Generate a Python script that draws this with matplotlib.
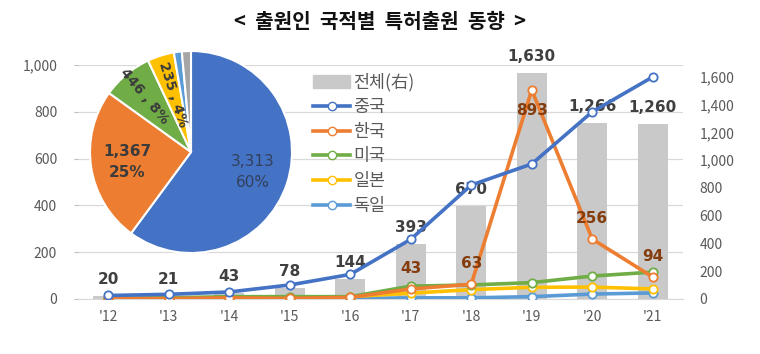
import numpy as np
import matplotlib
matplotlib.use('Agg')
import matplotlib.pyplot as plt
from matplotlib.patches import Patch
from matplotlib.lines import Line2D

plt.rcParams['font.family'] = ['Noto Sans CJK KR', 'DejaVu Sans']

# data
years = ["'12", "'13", "'14", "'15", "'16", "'17", "'18", "'19", "'20", "'21"]
total = [20, 21, 43, 78, 144, 393, 670, 1630, 1266, 1260]
china = [15, 20, 30, 60, 105, 255, 487, 577, 800, 949]
korea = [1, 2, 5, 3, 7, 43, 63, 893, 256, 94]
usa = [3, 5, 10, 10, 10, 55, 60, 70, 98, 115]
japan = [2, 3, 5, 5, 10, 25, 40, 50, 51, 43]
germany = [0, 0, 0, 0, 2, 5, 5, 10, 21, 26]
korea_labelled = ["'17", "'18", "'19", "'20", "'21"]

pie_names = ['중국', '한국', '미국', '일본', '독일', '기타']
pie_values = [3313, 1367, 446, 235, 70, 80]
pie_labels = ['3,313\n60%', '1,367\n25%', '446 , 8%', '235 , 4%', '', '']

c_china = '#4472C4'
c_korea = '#ED7D31'
c_usa = '#70AD47'
c_japan = '#FFC000'
c_germany = '#5B9BD5'
c_bar = '#C9C9C9'
c_text = '#595959'

fig = plt.figure(figsize=(7.6, 3.54), dpi=100)
rect = [78 / 760, 55 / 354, 605 / 760, 234 / 354]

# bottom axis: grid + left ticks
ax = fig.add_axes(rect)
ax.set_xlim(-0.5, len(years) - 0.5)
ax.set_ylim(0, 1000)
ax.set_yticks(range(0, 1001, 200))
ax.set_yticklabels([f'{v:,}' for v in range(0, 1001, 200)])
ax.grid(axis='y', color='#D9D9D9', linewidth=0.9)
ax.set_xticks(range(len(years)))
ax.set_xticklabels(years)
ax.tick_params(axis='both', colors=c_text, labelsize=10, length=0)
ax.tick_params(axis='y', length=3, color='#BFBFBF', pad=12)
ax.tick_params(axis='x', pad=8)
for s in ['top', 'right', 'left']:
    ax.spines[s].set_visible(False)
ax.spines['bottom'].set_color('#D9D9D9')

# bars on the right axis
ax2 = ax.twinx()
x = np.arange(len(years))
ax2.bar(x, total, width=0.5, color=c_bar, zorder=2)
ax2.set_ylim(0, 1686)
ax2.set_yticks(range(0, 1601, 200))
ax2.set_yticklabels([f'{v:,}' for v in range(0, 1601, 200)])
ax2.tick_params(axis='y', colors=c_text, labelsize=10, length=0, pad=12)
for s in ax2.spines.values():
    s.set_visible(False)
for i, v in enumerate(total):
    ax2.annotate(f'{v:,}', (i, v), xytext=(0, 12), textcoords='offset points',
                 ha='center', va='center', fontsize=11, fontweight='bold',
                 color='#404040', zorder=5, family='DejaVu Sans')

# lines on top
ax3 = ax.twinx()
ax3.set_ylim(0, 1000)
ax3.set_yticks([])
for s in ax3.spines.values():
    s.set_visible(False)
series = [(china, c_china), (korea, c_korea), (usa, c_usa),
          (japan, c_japan), (germany, c_germany)]
for vals, col in series[::-1]:
    ax3.plot(x, vals, color=col, linewidth=2.6, marker='o', markersize=6,
             markerfacecolor='white', markeredgecolor=col, markeredgewidth=1.3)
for i, yr in enumerate(years):
    if yr in korea_labelled:
        off = -15 if korea[i] == max(korea) else 15
        ax3.annotate(f'{korea[i]:,}', (i, korea[i]), xytext=(0, off),
                     textcoords='offset points', ha='center', va='center',
                     fontsize=11, fontweight='bold', color='#843C0C',
                     family='DejaVu Sans')

handles = [Patch(color=c_bar, label='전체(右)')]
for name, (vals, col) in zip(['중국', '한국', '미국', '일본', '독일'], series):
    handles.append(Line2D([], [], color=col, linewidth=2.6, marker='o', markersize=6,
                          markerfacecolor='white', markeredgecolor=col, label=name))
leg = ax3.legend(handles=handles, loc='upper left', bbox_to_anchor=(0.372, 1.01),
                 frameon=False, fontsize=12.5, labelspacing=0.38, handlelength=2.1,
                 handletextpad=0.2, borderaxespad=0.2)
for t in leg.get_texts():
    t.set_color(c_text)

# pie inset
pax = fig.add_axes([90 / 760, 101 / 354, 202 / 760, 202 / 354])
wedges, _ = pax.pie(pie_values, startangle=90, counterclock=False,
                    colors=[c_china, c_korea, c_usa, c_japan, c_germany, '#A5A5A5'],
                    wedgeprops=dict(edgecolor='white', linewidth=1.5))
pax.set_xlim(-1.0, 1.0)
pax.set_ylim(-1.0, 1.0)
pax.set_aspect('equal')
label_r = [0.64, 0.64, 0.72, 0.6, 0, 0]
for w, lab, r in zip(wedges, pie_labels, label_r):
    if not lab:
        continue
    mid = np.deg2rad((w.theta1 + w.theta2) / 2)
    px, py = r * np.cos(mid), r * np.sin(mid)
    if '\n' in lab:
        col = '#33405C' if w.get_facecolor()[2] > 0.6 else '#3B3B3B'
        weight = 'normal' if col == '#33405C' else 'bold'
        pax.text(px, py, lab, ha='center', va='center', fontsize=11,
                 color=col, fontweight=weight, linespacing=1.5, family='DejaVu Sans')
    else:
        rot = np.rad2deg(mid) - 180
        pax.text(px, py, lab, ha='center', va='center', fontsize=10,
                 color='#3B3B3B', fontweight='bold', rotation=rot,
                 rotation_mode='anchor', family='DejaVu Sans')

fig.text(0.5, 0.938, '<  출원인  국적별  특허출원  동향  >', ha='center', va='center',
         fontsize=14.5, fontweight='bold', color='#111111')

fig.savefig('out.png', dpi=100)
